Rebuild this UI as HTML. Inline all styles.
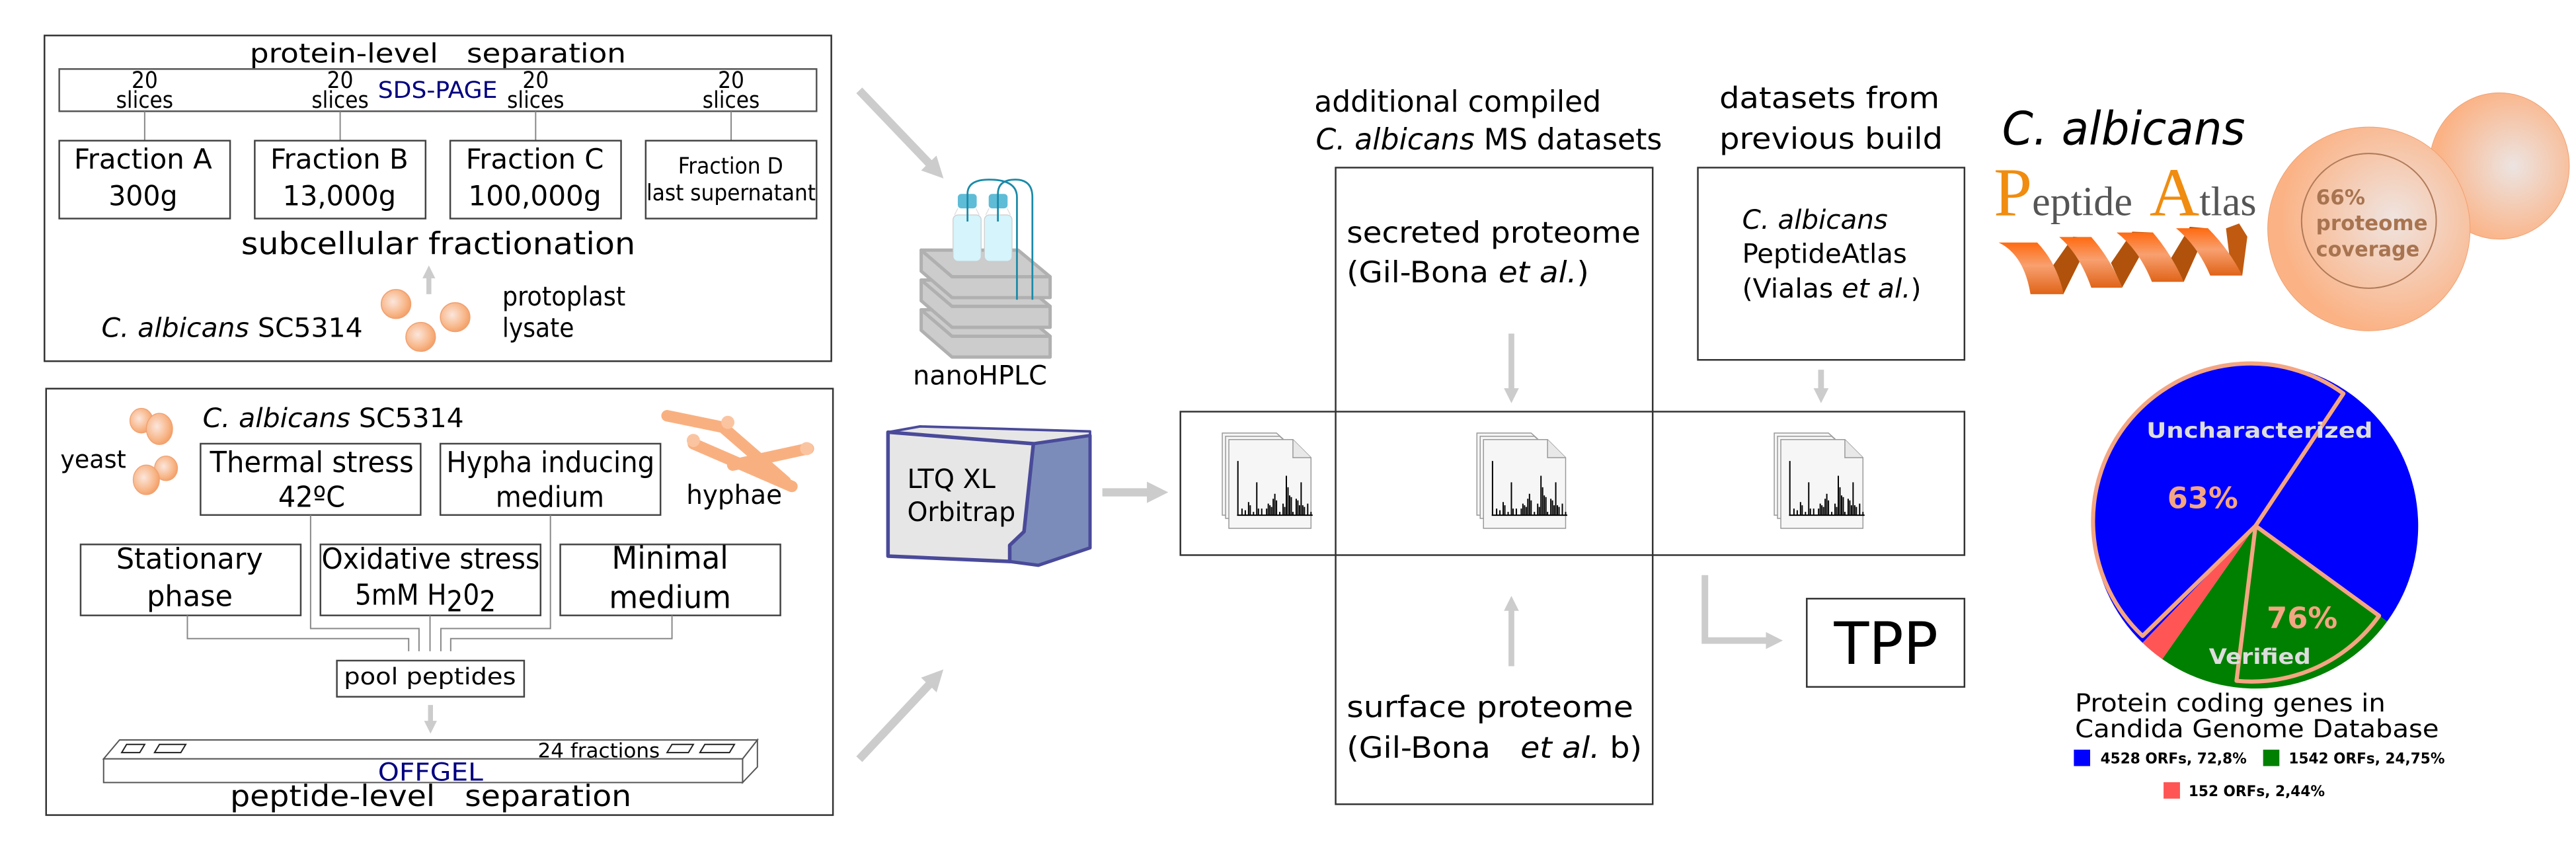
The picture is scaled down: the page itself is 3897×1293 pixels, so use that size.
<!DOCTYPE html>
<html><head><meta charset="utf-8"><style>
html,body{margin:0;padding:0;background:#fff;width:3897px;height:1293px;overflow:hidden}
svg{display:block}
text{font-family:"DejaVu Sans Condensed","DejaVu Sans","Liberation Sans",sans-serif;fill:#000;white-space:pre}
.w{font-family:"DejaVu Sans","Liberation Sans",sans-serif}
.it{font-style:italic}
</style></head><body>
<svg width="3897" height="1293" viewBox="0 0 1568 520.3" xmlns="http://www.w3.org/2000/svg" xml:space="preserve">
<defs>
<radialGradient id="sph" cx="0.4" cy="0.42" r="0.6"><stop offset="0" stop-color="#fbe6dc"/><stop offset="0.7" stop-color="#f8b88c"/><stop offset="1" stop-color="#f4a26a"/></radialGradient>
<radialGradient id="cell" cx="0.62" cy="0.45" r="0.55"><stop offset="0" stop-color="#efe4e0"/><stop offset="1" stop-color="#fbb386"/></radialGradient>
<radialGradient id="bud" cx="0.6" cy="0.5" r="0.55"><stop offset="0" stop-color="#ece4e2"/><stop offset="1" stop-color="#fbb386"/></radialGradient>
<linearGradient id="rib" x1="0" y1="0" x2="0" y2="1"><stop offset="0" stop-color="#ff6a10"/><stop offset="0.45" stop-color="#f8a070"/><stop offset="1" stop-color="#e06418"/></linearGradient>
<marker id="ah" viewBox="0 0 10 10" refX="3" refY="5" markerWidth="2.6" markerHeight="2.6" orient="auto"><path d="M0,0 L10,5 L0,10 z" fill="#cccccc"/></marker>
<g id="doc">
<path d="M0,0 H33 L44,10 V50 H0Z" fill="#f6f6f6" stroke="#999" stroke-width=".6"/>
<path d="M2,2 H35 L46,12 V52 H2Z" fill="#f6f6f6" stroke="#999" stroke-width=".6"/>
<path d="M4,4 H43 L54,15 V58 H4Z" fill="#f6f6f6" stroke="#999" stroke-width=".6"/>
<path d="M43,4 L43,15 L54,15" fill="#e8e8e8" stroke="#999" stroke-width=".6"/>
<path d="M9,50 H55 M9.5,50 V17 M12,50 V46 M14,50 V47 M16,50 V42 M17,50 V44 M19,50 V48 M21,50 V30 M22,50 V46 M24,50 V46 M27,50 V46 M28,50 V43 M29,50 V44 M30,50 V45 M31,50 V40 M32,50 V37 M33,50 V41 M35,50 V48 M37,50 V43 M38,50 V45 M39,50 V26 M40,50 V33 M41,50 V38 M42,50 V39 M43,50 V48 M45,50 V40 M46,50 V41 M47,50 V44 M48,50 V30 M49,50 V44 M50,50 V45 M52,50 V43 M54,50 V48" stroke="#000" stroke-width=".8" fill="none"/>
</g>
</defs>

<!-- ===== TOP LEFT BOX ===== -->
<rect x="27" y="21.6" width="479" height="198.2" fill="none" stroke="#333" stroke-width="1"/>
<text x="152" y="38" font-size="16" textLength="229" lengthAdjust="spacingAndGlyphs">protein-level   separation</text>
<rect x="36" y="42" width="461" height="25.7" fill="none" stroke="#555" stroke-width="1"/>
<g font-size="14" text-anchor="middle">
<text x="88" y="53.6">20</text><text x="88" y="65.5">slices</text>
<text x="207" y="53.6">20</text><text x="207" y="65.5">slices</text>
<text x="326" y="53.6">20</text><text x="326" y="65.5">slices</text>
<text x="445" y="53.6">20</text><text x="445" y="65.5">slices</text>
</g>
<text x="230" y="59.5" font-size="14" style="fill:#000080" textLength="72.7" lengthAdjust="spacingAndGlyphs">SDS-PAGE</text>
<path d="M88,67.7V85.6 M207,67.7V85.6 M326,67.7V85.6 M445,67.7V85.6" stroke="#888" stroke-width=".8"/>
<g fill="none" stroke="#444" stroke-width="1">
<rect x="36" y="85.6" width="104" height="47.4"/><rect x="155" y="85.6" width="104" height="47.4"/>
<rect x="274" y="85.6" width="104" height="47.4"/><rect x="393" y="85.6" width="104" height="47.4"/>
</g>
<text x="45" y="102.7" font-size="17" textLength="84" lengthAdjust="spacingAndGlyphs">Fraction A</text>
<text x="66" y="125" font-size="17" textLength="42" lengthAdjust="spacingAndGlyphs">300g</text>
<text x="164.5" y="102.7" font-size="17" textLength="84" lengthAdjust="spacingAndGlyphs">Fraction B</text>
<text x="172" y="125" font-size="17" textLength="69" lengthAdjust="spacingAndGlyphs">13,000g</text>
<text x="283.5" y="102.7" font-size="17" textLength="84" lengthAdjust="spacingAndGlyphs">Fraction C</text>
<text x="285" y="125" font-size="17" textLength="81" lengthAdjust="spacingAndGlyphs">100,000g</text>
<text x="412.7" y="105.6" font-size="13.5" textLength="64" lengthAdjust="spacingAndGlyphs">Fraction D</text>
<text x="393.5" y="122" font-size="13.5" textLength="103" lengthAdjust="spacingAndGlyphs">last supernatant</text>
<text x="146.7" y="154.8" font-size="18.5" textLength="240" lengthAdjust="spacingAndGlyphs">subcellular fractionation</text>
<line x1="261" y1="179" x2="261" y2="167" stroke="#ccc" stroke-width="3" marker-end="url(#ah)"/>
<g fill="url(#sph)" stroke="#f0a070" stroke-width=".6">
<ellipse cx="241" cy="185" rx="9" ry="8.8"/><ellipse cx="277" cy="193" rx="9" ry="8.8"/><ellipse cx="256" cy="205" rx="9" ry="8.8"/>
</g>
<text x="61.7" y="205" font-size="16" textLength="159" lengthAdjust="spacingAndGlyphs"><tspan class="it">C. albicans</tspan> SC5314</text>
<text x="305.7" y="186" font-size="16" textLength="75" lengthAdjust="spacingAndGlyphs">protoplast</text>
<text x="305.7" y="205" font-size="16" textLength="43.7" lengthAdjust="spacingAndGlyphs">lysate</text>

<!-- ===== BOTTOM LEFT BOX ===== -->
<rect x="28" y="236.5" width="479" height="259.5" fill="none" stroke="#333" stroke-width="1"/>
<text x="123.3" y="260" font-size="16" textLength="159" lengthAdjust="spacingAndGlyphs"><tspan class="it">C. albicans</tspan> SC5314</text>
<text x="36.7" y="284.6" font-size="15" textLength="40" lengthAdjust="spacingAndGlyphs">yeast</text>
<g fill="url(#sph)" stroke="#f0a070" stroke-width=".5">
<ellipse cx="86" cy="256" rx="7" ry="7.5"/><ellipse cx="97" cy="261" rx="8" ry="9.5"/>
<ellipse cx="101" cy="285" rx="7" ry="7.5"/><ellipse cx="89" cy="292" rx="8" ry="9"/>
</g>
<g stroke="#f9b080" stroke-linecap="round" fill="none">
<path d="M406,253 L440,260 L478,293" stroke-width="7"/>
<path d="M422,270 L482,296" stroke-width="7"/>
<path d="M446,283 L492,273" stroke-width="7"/>
</g>
<g fill="#fbc4a0"><circle cx="443" cy="257" r="4"/><circle cx="422" cy="268" r="4"/><circle cx="491" cy="273" r="4"/></g>
<text x="417.7" y="306.6" font-size="16" textLength="58.3" lengthAdjust="spacingAndGlyphs">hyphae</text>
<g fill="none" stroke="#444" stroke-width="1">
<rect x="122" y="270" width="134" height="43.4"/><rect x="268" y="270" width="134" height="43.4"/>
<rect x="49" y="331.3" width="134" height="43.2"/><rect x="195" y="331.3" width="134" height="43.2"/><rect x="341" y="331.3" width="134" height="43.2"/>
<rect x="205" y="402" width="114" height="22"/>
</g>
<text x="127.7" y="287.4" font-size="17.5" textLength="124" lengthAdjust="spacingAndGlyphs">Thermal stress</text>
<text x="169.3" y="308.4" font-size="17.5" textLength="40.7" lengthAdjust="spacingAndGlyphs">42ºC</text>
<text x="271.7" y="287.4" font-size="17.5" textLength="126.7" lengthAdjust="spacingAndGlyphs">Hypha inducing</text>
<text x="301.7" y="308.4" font-size="17.5" textLength="66" lengthAdjust="spacingAndGlyphs">medium</text>
<text x="70.7" y="346" font-size="17.5" textLength="89.3" lengthAdjust="spacingAndGlyphs">Stationary</text>
<text x="89.3" y="368.8" font-size="17.5" textLength="52.3" lengthAdjust="spacingAndGlyphs">phase</text>
<text x="195.7" y="346" font-size="17.5" textLength="132.7" lengthAdjust="spacingAndGlyphs">Oxidative stress</text>
<text x="216" y="368" font-size="17.5">5mM H<tspan dy="4">2</tspan><tspan dy="-4">0</tspan><tspan dy="4">2</tspan></text>
<text x="372.3" y="346" font-size="19" textLength="71" lengthAdjust="spacingAndGlyphs">Minimal</text>
<text x="370.7" y="370" font-size="19" textLength="74.3" lengthAdjust="spacingAndGlyphs">medium</text>
<g fill="none" stroke="#888" stroke-width=".8">
<path d="M189,313.4 V382.5 H255 V396.3"/>
<path d="M335,313.4 V382.5 H268.3 V396.3"/>
<path d="M114,374.5 V388.6 H248.7 V396.3"/>
<path d="M409,374.5 V388.6 H274.3 V396.3"/>
<path d="M261.7,374.5 V396.3"/>
</g>
<text x="209.3" y="416.4" font-size="14" textLength="104.7" lengthAdjust="spacingAndGlyphs">pool peptides</text>
<line x1="262" y1="429" x2="262" y2="441" stroke="#ccc" stroke-width="3" marker-end="url(#ah)"/>
<g fill="#fff" stroke="#555" stroke-width=".8">
<path d="M63,461.8 L72.7,450.3 L461,450.3 L452,461.8 Z"/>
<rect x="63" y="461.8" width="389" height="14.4"/>
<path d="M452,461.8 L461,450.3 L461,466.7 L452,476.2 Z"/>
<path d="M74,458 L77,453 L88,453 L85,458Z M94,458 L97,453 L113,453 L110,458Z M406,458 L409,453 L422,453 L419,458Z M426,458 L429,453 L447,453 L444,458Z" stroke="#222"/>
</g>
<text x="327.3" y="461" font-size="12" textLength="74.3" lengthAdjust="spacingAndGlyphs">24 fractions</text>
<text x="230" y="475" font-size="15" style="fill:#000080" textLength="64" lengthAdjust="spacingAndGlyphs">OFFGEL</text>
<text x="140" y="490.5" font-size="18" textLength="244.3" lengthAdjust="spacingAndGlyphs">peptide-level   separation</text>

<!-- ===== MIDDLE INSTRUMENTS ===== -->
<line x1="523" y1="55" x2="568" y2="102" stroke="#ccc" stroke-width="5" marker-end="url(#ah)"/>
<line x1="523" y1="462" x2="568" y2="414" stroke="#ccc" stroke-width="5" marker-end="url(#ah)"/>
<g fill="#cccccc" stroke="#b0b0b0" stroke-width="2" stroke-linejoin="round">
<path d="M560.7,188.5 L579.5,204.6 L639.2,204.6 L639.2,217.3 L579.5,217.3 L560.7,201 Z"/>
<path d="M560.7,188.5 L619.7,188.5 L639.2,204.6 L579.5,204.6 Z"/>
<path d="M560.7,170.4 L579.5,186.4 L639.2,186.4 L639.2,199.2 L579.5,199.2 L560.7,183 Z"/>
<path d="M560.7,170.4 L619.7,170.4 L639.2,186.4 L579.5,186.4 Z"/>
<path d="M560.7,152.2 L579.5,168.4 L639.2,168.4 L639.2,181.1 L579.5,181.1 L560.7,165 Z"/>
<path d="M560.7,152.2 L619.7,152.2 L639.2,168.4 L579.5,168.4 Z"/>
</g>
<g stroke="#ccc" stroke-width=".5">
<rect x="580.1" y="130.8" width="17.1" height="28.2" rx="3" fill="#d5f4fc"/>
<rect x="599.2" y="130.8" width="16.8" height="28.2" rx="3" fill="#d5f4fc"/>
<path d="M583,126.8 L581,130.8 M594,126.8 L596,130.8 M602,126.8 L600,130.8 M613,126.8 L615,130.8" stroke="#ddd"/>
</g>
<rect x="583" y="118" width="11.5" height="8.8" rx="2" fill="#5ebcd6"/>
<rect x="601.8" y="118" width="11.5" height="8.8" rx="2" fill="#5ebcd6"/>
<g fill="none" stroke="#1a8aa8" stroke-width="1.1">
<path d="M588.9,134.8 V118 Q588.9,109.3 602,109.3 Q619,109.3 619,120 V182.4"/>
<path d="M607.4,134.8 V118 Q607.4,109.3 618,109.3 Q628.4,109.3 628.4,120 V182.4"/>
</g>
<text x="555.7" y="234" font-size="16" textLength="81.6" lengthAdjust="spacingAndGlyphs">nanoHPLC</text>
<path d="M540.5,263 L560,259.5 L663.5,262.5 L663.5,265 L629,270 Z" fill="#e6e6e6" stroke="#4a4a9a" stroke-width="1.5" stroke-linejoin="round"/>
<path d="M629,270 L663.5,265 L663.5,333.4 L632,344 L614.6,341.7 L614.6,331.8 L623.3,323.5 Z" fill="#7b8cba" stroke="#4a4a9a" stroke-width="2" stroke-linejoin="round"/>
<path d="M540.5,263 L629,270 L623.3,323.5 L614.6,331.8 L614.6,341.7 L540.5,338.4 Z" fill="#e6e6e6" stroke="#4a4a9a" stroke-width="2.2" stroke-linejoin="round"/>
<text x="552.2" y="297" font-size="16" textLength="53.7" lengthAdjust="spacingAndGlyphs">LTQ XL</text>
<text x="552.2" y="317" font-size="16" textLength="65.9" lengthAdjust="spacingAndGlyphs">Orbitrap</text>
<line x1="671" y1="299.6" x2="702" y2="299.6" stroke="#ccc" stroke-width="5" marker-end="url(#ah)"/>

<!-- ===== CROSS ===== -->
<g fill="none" stroke="#333" stroke-width="1">
<rect x="718.5" y="250.5" width="477.3" height="87.3"/>
<rect x="813" y="102" width="193" height="387.4"/>
<rect x="1033.5" y="102" width="162.3" height="117"/>
<rect x="1099.8" y="364.3" width="96" height="53.7"/>
</g>
<use href="#doc" x="744" y="263.5"/>
<use href="#doc" x="899" y="263.5"/>
<use href="#doc" x="1080" y="263.5"/>
<text x="800" y="68" font-size="18" textLength="174.6" lengthAdjust="spacingAndGlyphs">additional compiled</text>
<text x="800.9" y="91" font-size="18" textLength="210.8" lengthAdjust="spacingAndGlyphs"><tspan class="it">C. albicans</tspan> MS datasets</text>
<text x="1046.6" y="65.7" font-size="18" textLength="134" lengthAdjust="spacingAndGlyphs">datasets from</text>
<text x="1046.6" y="90.6" font-size="18" textLength="136" lengthAdjust="spacingAndGlyphs">previous build</text>
<text x="819.7" y="147.6" font-size="18" textLength="178.9" lengthAdjust="spacingAndGlyphs">secreted proteome</text>
<text x="819.7" y="171.9" font-size="18" textLength="147.5" lengthAdjust="spacingAndGlyphs">(Gil-Bona <tspan class="it">et al.</tspan>)</text>
<text x="1060.5" y="139.3" font-size="16" class="it" textLength="88.6" lengthAdjust="spacingAndGlyphs">C. albicans</text>
<text x="1060.5" y="160" font-size="16" textLength="100.3" lengthAdjust="spacingAndGlyphs">PeptideAtlas</text>
<text x="1060.5" y="181" font-size="16" textLength="109" lengthAdjust="spacingAndGlyphs">(Vialas <tspan class="it">et al.</tspan>)</text>
<line x1="920" y1="203" x2="920" y2="239" stroke="#ccc" stroke-width="3.5" marker-end="url(#ah)"/>
<line x1="1108.5" y1="225" x2="1108.5" y2="239" stroke="#ccc" stroke-width="3.5" marker-end="url(#ah)"/>
<line x1="920" y1="405.4" x2="920" y2="369" stroke="#ccc" stroke-width="3.5" marker-end="url(#ah)"/>
<path d="M1037.8,350 V389.8 H1078" fill="none" stroke="#ccc" stroke-width="4" marker-end="url(#ah)"/>
<text x="1116.4" y="404" font-size="35.5" class="w" textLength="63.3" lengthAdjust="spacingAndGlyphs">TPP</text>
<text x="819.7" y="436.3" font-size="18" textLength="174.5" lengthAdjust="spacingAndGlyphs">surface proteome</text>
<text x="819.7" y="461.2" font-size="18" textLength="179.8" lengthAdjust="spacingAndGlyphs">(Gil-Bona   <tspan class="it">et al.</tspan> b)</text>

<!-- ===== RIGHT ===== -->
<text x="1218.7" y="88" font-size="28" class="w it" textLength="148" lengthAdjust="spacingAndGlyphs">C. albicans</text>
<text x="1213.6" y="131" style="font-family:'Liberation Serif',serif;fill:#555" font-size="25"><tspan font-size="42" style="fill:#f08c10">P</tspan><tspan>eptide</tspan><tspan x="1308.5" font-size="42" style="fill:#f08c10">A</tspan><tspan>tlas</tspan></text>
<g>
<path d="M1248,164 L1256,179 L1273,145 L1262,144 Z" fill="#b0520c"/>
<path d="M1285,160 L1291.8,175 L1310.5,141.5 L1298,141 Z" fill="#b0520c"/>
<path d="M1321,158 L1329.3,171.5 L1344,139 L1333,138 Z" fill="#b0520c"/>
<path d="M1357,155 L1364.9,167.7 L1368,144 L1363,136 L1355,139 Z" fill="#c05a10"/>
<path d="M1216.6,147.6 L1240.1,147.6 Q1252,160 1256.2,179 L1236,179 Q1232,155 1216.6,147.6Z" fill="url(#rib)"/>
<path d="M1253.5,144.2 L1273,144.2 Q1285,158 1291.8,175.1 L1273,175.1 Q1266,155 1253.5,144.2Z" fill="url(#rib)"/>
<path d="M1288.4,141.5 L1310.5,141.5 Q1322,155 1329.3,171.5 L1309.9,171.5 Q1302,152 1288.4,141.5Z" fill="url(#rib)"/>
<path d="M1324.6,138.9 L1344,138.9 Q1357,152 1364.9,167.7 L1345.4,167.7 Q1338,150 1324.6,138.9Z" fill="url(#rib)"/>
</g>
<ellipse cx="1521.4" cy="101" rx="42.6" ry="44.5" fill="url(#bud)" stroke="#f0a070" stroke-width=".4"/>
<ellipse cx="1442" cy="139.3" rx="61.6" ry="62" fill="url(#cell)" stroke="#f0a070" stroke-width=".4"/>
<circle cx="1442" cy="134.4" r="41" fill="none" stroke="#b07a58" stroke-width=".8"/>
<g font-weight="bold" font-size="12.5">
<text x="1409.8" y="124.4" style="fill:#a87450" class="w">66%</text>
<text x="1409.8" y="140" style="fill:#a87450" class="w" textLength="68" lengthAdjust="spacingAndGlyphs">proteome</text>
<text x="1409.8" y="156" style="fill:#a87450" class="w" textLength="63" lengthAdjust="spacingAndGlyphs">coverage</text>
</g>
<!-- pie -->
<path d="M1373,320 L1304.2,391.2 A99,99 0 1 1 1453.1,378.2 Z" fill="#0000ff"/>
<path d="M1373,320 L1453.1,378.2 A99,99 0 0 1 1316.2,401.1 Z" fill="#008000"/>
<path d="M1373,320 L1316.2,401.1 A99,99 0 0 1 1304.2,391.2 Z" fill="#ff5555"/>
<path d="M1373,320 L1426.5,239.5 A96,96 0 0 0 1304.2,387 Z" fill="none" stroke="#f4a582" stroke-width="2.5" stroke-linejoin="round"/>
<path d="M1373,320 L1448.2,374.7 A95,95 0 0 1 1361.4,414.3 Z" fill="none" stroke="#f4a582" stroke-width="2.5" stroke-linejoin="round"/>
<text x="1306.6" y="266.4" class="w" font-weight="bold" font-size="13" style="fill:#dddddd" textLength="137.7" lengthAdjust="spacingAndGlyphs">Uncharacterized</text>
<text x="1319.3" y="309.2" class="w" font-weight="bold" font-size="18" style="fill:#f4a582">63%</text>
<text x="1379.8" y="382.2" class="w" font-weight="bold" font-size="18" style="fill:#f4a582">76%</text>
<text x="1344.6" y="404" class="w" font-weight="bold" font-size="13" style="fill:#dddddd" textLength="62" lengthAdjust="spacingAndGlyphs">Verified</text>
<text x="1263.1" y="433" class="w" font-size="15" textLength="189" lengthAdjust="spacingAndGlyphs">Protein coding genes in</text>
<text x="1263.1" y="448.6" class="w" font-size="15" textLength="221.5" lengthAdjust="spacingAndGlyphs">Candida Genome Database</text>
<rect x="1262.4" y="456.2" width="9.9" height="10" fill="#0000ff"/>
<rect x="1377.6" y="456.2" width="9.9" height="10" fill="#008000"/>
<rect x="1317" y="476" width="10" height="10" fill="#ff5555"/>
<g font-weight="bold" font-size="9">
<text x="1278.6" y="464.5" class="w" textLength="89" lengthAdjust="spacingAndGlyphs">4528 ORFs, 72,8%</text>
<text x="1393.2" y="464.5" class="w" textLength="95" lengthAdjust="spacingAndGlyphs">1542 ORFs, 24,75%</text>
<text x="1332.2" y="484.4" class="w" textLength="83" lengthAdjust="spacingAndGlyphs">152 ORFs, 2,44%</text>
</g>
</svg>
</body></html>
